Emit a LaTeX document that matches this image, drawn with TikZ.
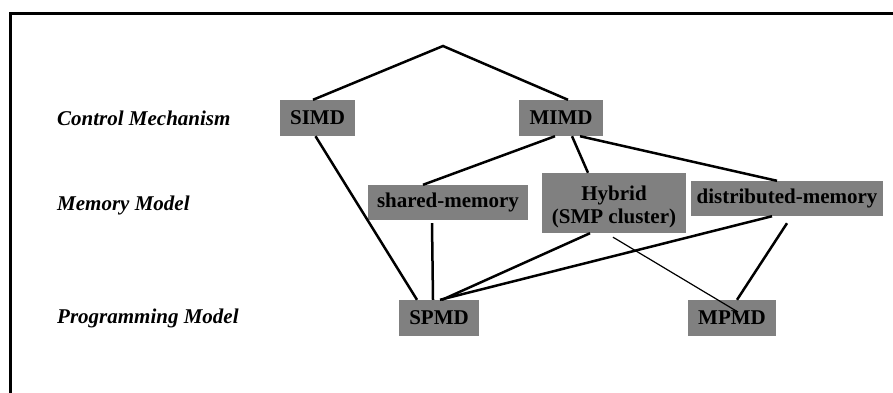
\documentclass[tikz,border=0pt]{standalone}
\usepackage{fontspec}
\setmainfont{Liberation Serif}
\usetikzlibrary{calc}
\definecolor{boxgray}{RGB}{128,128,128}
\tikzset{
  boxtext/.style={inner sep=0pt, align=center,
    font=\fontsize{21}{23}\selectfont\bfseries},
  box/.style={boxtext, fill=boxgray},
  levellabel/.style={anchor=west, inner sep=0pt,
    font=\fontsize{21}{25}\selectfont\bfseries\itshape},
  link/.style={line width=2.5pt},
  thinlink/.style={line width=1.2pt}
}
\begin{document}
\begin{tikzpicture}[x=1pt,y=-1pt]
\useasboundingbox (0,0) rectangle (893,392);

% outer frame (only the top and left edges fall inside the page)
\draw[line width=3pt, line join=miter] (10,396) -- (10,13) -- (897,13);

% level labels
\node[levellabel] (lctrl) at (57,118) {Control Mechanism};
\node[levellabel] (lmem)  at (57,205) {Memory Model};
\node[levellabel] (lprog) at (57,318) {Programming Model};

% classification boxes
\node[box, minimum width=75pt,  minimum height=36pt] (simd)   at (317.5,118) {SIMD};
\node[box, minimum width=84pt,  minimum height=36pt] (mimd)   at (561,118)   {MIMD};
\node[box, minimum width=160pt, minimum height=35pt] (shared) at (448,202.5) {shared-memory};
\node[fill=boxgray, inner sep=0pt, minimum width=144pt, minimum height=60pt] (hybrid) at (614,203) {};
\node[boxtext] (hybridtext) at (614,206.5) {Hybrid\\(SMP cluster)};
\node[box, minimum width=192pt, minimum height=35pt] (dist)   at (787,198.5) {distributed-memory};
\node[box, minimum width=80pt,  minimum height=36pt] (spmd)   at (439,318)   {SPMD};
\node[box, minimum width=88pt,  minimum height=36pt] (mpmd)   at (732,318)   {MPMD};

\coordinate (root) at (443,46);

% tree connections
\draw[link] ($(simd.north)+(-4.5,0)$) -- (root) -- ($(mimd.north)+(7,0)$);
\draw[link] ($(simd.south)+(-2,0)$) -- ($(spmd.north)+(-22,0)$);
\draw[link] ($(mimd.south)+(-6,0)$) -- ($(shared.north)+(-25,0)$);
\draw[link] ($(mimd.south)+(11,0)$) -- ($(hybrid.north)+(-26,0)$);
\draw[link] ($(mimd.south)+(19,0)$) -- ($(dist.north)+(-10,0)$);
\draw[link] ($(shared.south)+(-16,3)$) -- ($(spmd.north)+(-6,0)$);
\draw[link] ($(hybrid.south)+(-24,0)$) -- ($(spmd.north)+(3,0)$);
\draw[link] ($(dist.south)+(-15,0)$) -- ($(spmd.north)+(1,0)$);
\draw[link] ($(dist.south)+(0,7)$) -- ($(mpmd.north)+(5,0)$);
\draw[thinlink] ($(hybrid.south)+(-1,4)$) -- ($(mpmd.center)+(6,-6)$);
\end{tikzpicture}
\end{document}
